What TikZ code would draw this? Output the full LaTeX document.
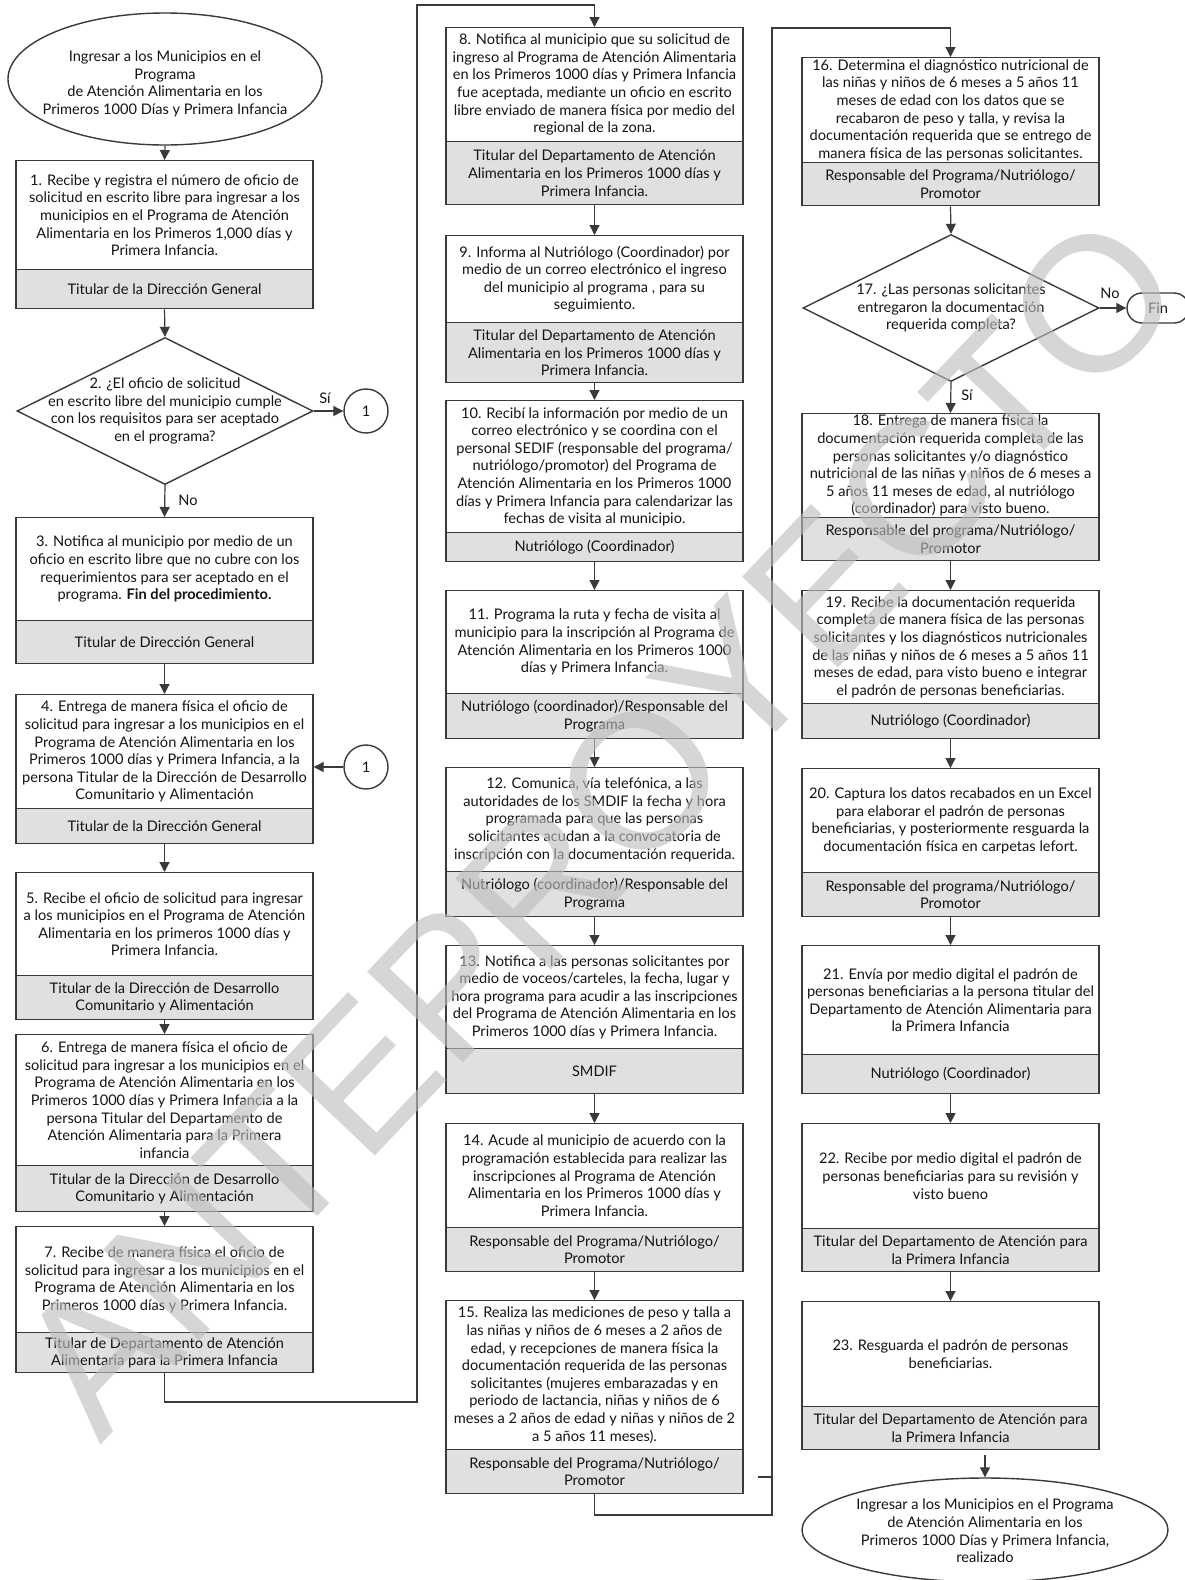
\documentclass[tikz,border=0pt]{standalone}
\usepackage{fontspec}
\setmainfont{Lato}
\newfontfamily\wmfont{Liberation Sans}
\usetikzlibrary{shapes.geometric,arrows.meta}
\definecolor{ln}{HTML}{3A3A3A}
\definecolor{rolefill}{HTML}{E0E0E0}
\definecolor{txt}{HTML}{141414}
\definecolor{wm}{RGB}{190,190,190}
\newcommand{\stp}[7]{%
 \node[upbox, minimum height={(#4-#3)*0.5pt}, anchor=north] (#1) at (#2,#3) {#6};
 \node[rolebox, minimum height={(#5-#4)*0.5pt}, anchor=north] (#1r) at (#2,#4) {#7};}
\begin{document}
\begin{tikzpicture}[x={(0.5pt,0)}, y={(0,-0.5pt)},
  every node/.style={font=\fontsize{7.3}{8.8}\selectfont, text=txt},
  upbox/.style={draw=ln, line width=0.7pt, fill=white, minimum width=148.5pt, inner sep=0pt, align=center},
  rolebox/.style={upbox, fill=rolefill},
  decision/.style={diamond, draw=ln, line width=0.7pt, fill=white, inner sep=0pt, minimum width=148pt, minimum height=73.5pt},
  terminal/.style={ellipse, draw=ln, line width=0.7pt, fill=white, inner sep=0pt},
  connector/.style={circle, draw=ln, line width=0.7pt, fill=white, inner sep=0pt, minimum size=22pt},
  lbl/.style={align=center, inner sep=0pt},
  arr/.style={draw=ln, line width=0.6pt, -{Triangle[width=5pt,length=5pt]}},
  plain/.style={draw=ln, line width=0.6pt}]
\fill[white] (0,0) rectangle (1184,1580);
\useasboundingbox (0,0) rectangle (1184,1580);

% ---------- column 1 ----------
\node[terminal, minimum width=157pt, minimum height=66pt] (start) at (165,79) {};
\node[lbl] (startt) at (165,84) {Ingresar a los Municipios en el\\Programa\\de Atención Alimentaria en los\\Primeros 1000 Días y Primera Infancia};

\stp{b1}{164.5}{160}{269}{308}{1. Recibe y registra el número de oficio de\\solicitud en escrito libre para ingresar a los\\municipios en el Programa de Atención\\Alimentaria en los Primeros 1,000 días y\\Primera Infancia.}{Titular de la Dirección General}

\node[decision] (d2) at (165,411) {};
\node[lbl] (d2t) at (165,411) {2. ¿El oficio de solicitud\\en escrito libre del municipio cumple\\con los requisitos para ser aceptado\\en el programa?};
\node[connector] (c1a) at (366,411) {1};
\node[lbl] (si1) at (325,398) {Sí};
\node[lbl] (no1) at (188,500) {No};

\stp{b3}{164.5}{517}{620}{663}{3. Notifica al municipio por medio de un\\oficio en escrito libre que no cubre con los\\requerimientos para ser aceptado en el\\programa. \textbf{Fin del procedimiento.}}{Titular de Dirección General}

\stp{b4}{164.5}{694}{808}{843}{4. Entrega de manera física el oficio de\\solicitud para ingresar a los municipios en el\\Programa de Atención Alimentaria en los\\Primeros 1000 días y Primera Infancia, a la\\persona Titular de la Dirección de Desarrollo\\Comunitario y Alimentación}{Titular de la Dirección General}
\node[connector] (c1b) at (366,767) {1};

\stp{b5}{164.5}{872}{975}{1019}{5. Recibe el oficio de solicitud para ingresar\\a los municipios en el Programa de Atención\\Alimentaria en los primeros 1000 días y\\Primera Infancia.}{Titular de la Dirección de Desarrollo\\Comunitario y Alimentación}

\stp{b6}{164.5}{1034}{1165}{1211}{6. Entrega de manera física el oficio de\\solicitud para ingresar a los municipios en el\\Programa de Atención Alimentaria en los\\Primeros 1000 días y Primera Infancia a la\\persona Titular del Departamento de\\Atención Alimentaria para la Primera\\infancia}{Titular de la Dirección de Desarrollo\\Comunitario y Alimentación}

\stp{b7}{164.5}{1226}{1332}{1372}{7. Recibe de manera física el oficio de\\solicitud para ingresar a los municipios en el\\Programa de Atención Alimentaria en los\\Primeros 1000 días y Primera Infancia.}{Titular de Departamento de Atención\\Alimentaria para la Primera Infancia}

% ---------- column 2 ----------
\stp{b8}{594.5}{27}{141}{204}{8. Notifica al municipio que su solicitud de\\ingreso al Programa de Atención Alimentaria\\en los Primeros 1000 días y Primera Infancia\\fue aceptada, mediante un oficio en escrito\\libre enviado de manera física por medio del\\regional de la zona.}{Titular del Departamento de Atención\\Alimentaria en los Primeros 1000 días y\\Primera Infancia.}

\stp{b9}{594.5}{235}{322}{382}{9. Informa al Nutriólogo (Coordinador) por\\medio de un correo electrónico el ingreso\\del municipio al programa , para su\\seguimiento.}{Titular del Departamento de Atención\\Alimentaria en los Primeros 1000 días y\\Primera Infancia.}

\stp{b10}{594.5}{400}{532}{561}{10. Recibí la información por medio de un\\correo electrónico y se coordina con el\\personal SEDIF (responsable del programa/\\nutriólogo/promotor) del Programa de\\Atención Alimentaria en los Primeros 1000\\días y Primera Infancia para calendarizar las\\fechas de visita al municipio.}{Nutriólogo (Coordinador)}

\stp{b11}{594.5}{590}{693}{738}{11. Programa la ruta y fecha de visita al\\municipio para la inscripción al Programa de\\Atención Alimentaria en los Primeros 1000\\días y Primera Infancia.}{Nutriólogo (coordinador)/Responsable del\\Programa}

\stp{b12}{594.5}{767}{871}{916}{12. Comunica, vía telefónica, a las\\autoridades de los SMDIF la fecha y hora\\programada para que las personas\\solicitantes acudan a la convocatoria de\\inscripción con la documentación requerida.}{Nutriólogo (coordinador)/Responsable del\\Programa}

\stp{b13}{594.5}{945}{1048}{1093}{13. Notifica a las personas solicitantes por\\medio de voceos/carteles, la fecha, lugar y\\hora programa para acudir a las inscripciones\\del Programa de Atención Alimentaria en los\\Primeros 1000 días y Primera Infancia.}{SMDIF}

\stp{b14}{594.5}{1123}{1227}{1271}{14. Acude al municipio de acuerdo con la\\programación establecida para realizar las\\inscripciones al Programa de Atención\\Alimentaria en los Primeros 1000 días y\\Primera Infancia.}{Responsable del Programa/Nutriólogo/\\Promotor}

\stp{b15}{594.5}{1300}{1449}{1493}{15. Realiza las mediciones de peso y talla a\\las niñas y niños de 6 meses a 2 años de\\edad, y recepciones de manera física la\\documentación requerida de las personas\\solicitantes (mujeres embarazadas y en\\periodo de lactancia, niñas y niños de 6\\meses a 2 años de edad y niñas y niños de 2\\a 5 años 11 meses).}{Responsable del Programa/Nutriólogo/\\Promotor}

% ---------- column 3 ----------
\stp{b16}{950.5}{57}{162}{205}{16. Determina el diagnóstico nutricional de\\las niñas y niños de 6 meses a 5 años 11\\meses de edad con los datos que se\\recabaron de peso y talla, y revisa la\\documentación requerida que se entrego de\\manera física de las personas solicitantes.}{Responsable del Programa/Nutriólogo/\\Promotor}

\node[decision] (d17) at (951,308) {};
\node[lbl] (d17t) at (951,308) {17. ¿Las personas solicitantes\\entregaron la documentación\\requerida completa?};
\node[draw=ln, line width=0.7pt, fill=white, rounded corners=7.5pt, minimum width=31pt, minimum height=15pt, inner sep=0pt] (fin) at (1158,308) {Fin};
\node[lbl] (no2) at (1110,293) {No};
\node[lbl] (si2) at (967,395) {Sí};

\stp{b18}{950.5}{413}{517}{560}{18. Entrega de manera física la\\documentación requerida completa de las\\personas solicitantes y/o diagnóstico\\nutricional de las niñas y niños de 6 meses a\\5 años 11 meses de edad, al nutriólogo\\(coordinador) para visto bueno.}{Responsable del programa/Nutriólogo/\\Promotor}

\stp{b19}{950.5}{590}{703}{738}{19. Recibe la documentación requerida\\completa de manera física de las personas\\solicitantes y los diagnósticos nutricionales\\de las niñas y niños de 6 meses a 5 años 11\\meses de edad, para visto bueno e integrar\\el padrón de personas beneficiarias.}{Nutriólogo (Coordinador)}

\stp{b20}{950.5}{768}{872}{916}{20. Captura los datos recabados en un Excel\\para elaborar el padrón de personas\\beneficiarias, y posteriormente resguarda la\\documentación física en carpetas lefort.}{Responsable del programa/Nutriólogo/\\Promotor}

\stp{b21}{950.5}{945}{1054}{1093}{21. Envía por medio digital el padrón de\\personas beneficiarias a la persona titular del\\Departamento de Atención Alimentaria para\\la Primera Infancia}{Nutriólogo (Coordinador)}

\stp{b22}{950.5}{1123}{1228}{1271}{22. Recibe por medio digital el padrón de\\personas beneficiarias para su revisión y\\visto bueno}{Titular del Departamento de Atención para\\la Primera Infancia}

\stp{b23}{950.5}{1301}{1406}{1449}{23. Resguarda el padrón de personas\\beneficiarias.}{Titular del Departamento de Atención para\\la Primera Infancia}

\node[terminal, minimum width=183pt, minimum height=52pt] (end) at (985,1530) {};
\node[lbl] (endt) at (985,1531) {Ingresar a los Municipios en el Programa\\de Atención Alimentaria en los\\Primeros 1000 Días y Primera Infancia,\\realizado};

% ---------- connectors ----------
\draw[arr] (start.south) -- (b1.north);
\draw[arr] (b1r.south) -- (d2.north);
\draw[arr] (d2.east) -- (c1a.west);
\draw[arr] (d2.south) -- (b3.north);
\draw[arr] (b3r.south) -- (b4.north);
\draw[arr] (c1b.west) -- (b4.east |- c1b.west);
\draw[arr] (b4r.south) -- (b5.north);
\draw[arr] (b5r.south) -- (b6.north);
\draw[arr] (b6r.south) -- (b7.north);

\coordinate (k1) at (417,1402);
\coordinate (k2) at (417,5);
\draw[arr] (b7r.south) |- (k1) -- (k2) -| (b8.north);

\draw[arr] (b8r.south) -- (b9.north);
\draw[arr] (b9r.south) -- (b10.north);
\draw[arr] (b10r.south) -- (b11.north);
\draw[arr] (b11r.south) -- (b12.north);
\draw[arr] (b12r.south) -- (b13.north);
\draw[arr] (b13r.south) -- (b14.north);
\draw[arr] (b14r.south) -- (b15.north);

\coordinate (k3) at (772,1515);
\coordinate (k4) at (772,28);
\draw[arr] (b15r.south) |- (k3) -- (k4) -| (b16.north);
\coordinate (s1) at (758,1477);
\coordinate (s2) at (772,1477);
\draw[plain] (s1) -- (s2);

\draw[arr] (b16r.south) -- (d17.north);
\draw[arr] (d17.east) -- (fin.west);
\draw[arr] (d17.south) -- (b18.north);
\draw[arr] (b18r.south) -- (b19.north);
\draw[arr] (b19r.south) -- (b20.north);
\draw[arr] (b20r.south) -- (b21.north);
\draw[arr] (b21r.south) -- (b22.north);
\draw[arr] (b22r.south) -- (b23.north);
\coordinate (e0) at (985,1455);
\draw[arr] (e0) -- (end.north);

% ---------- watermark ----------
\node[font=\wmfont\fontsize{96}{96}\selectfont, text=wm, text opacity=0.62, rotate=46.5, inner sep=0pt] (wmark) at (598,825) {ANTEPROYECTO};
\end{tikzpicture}
\end{document}
